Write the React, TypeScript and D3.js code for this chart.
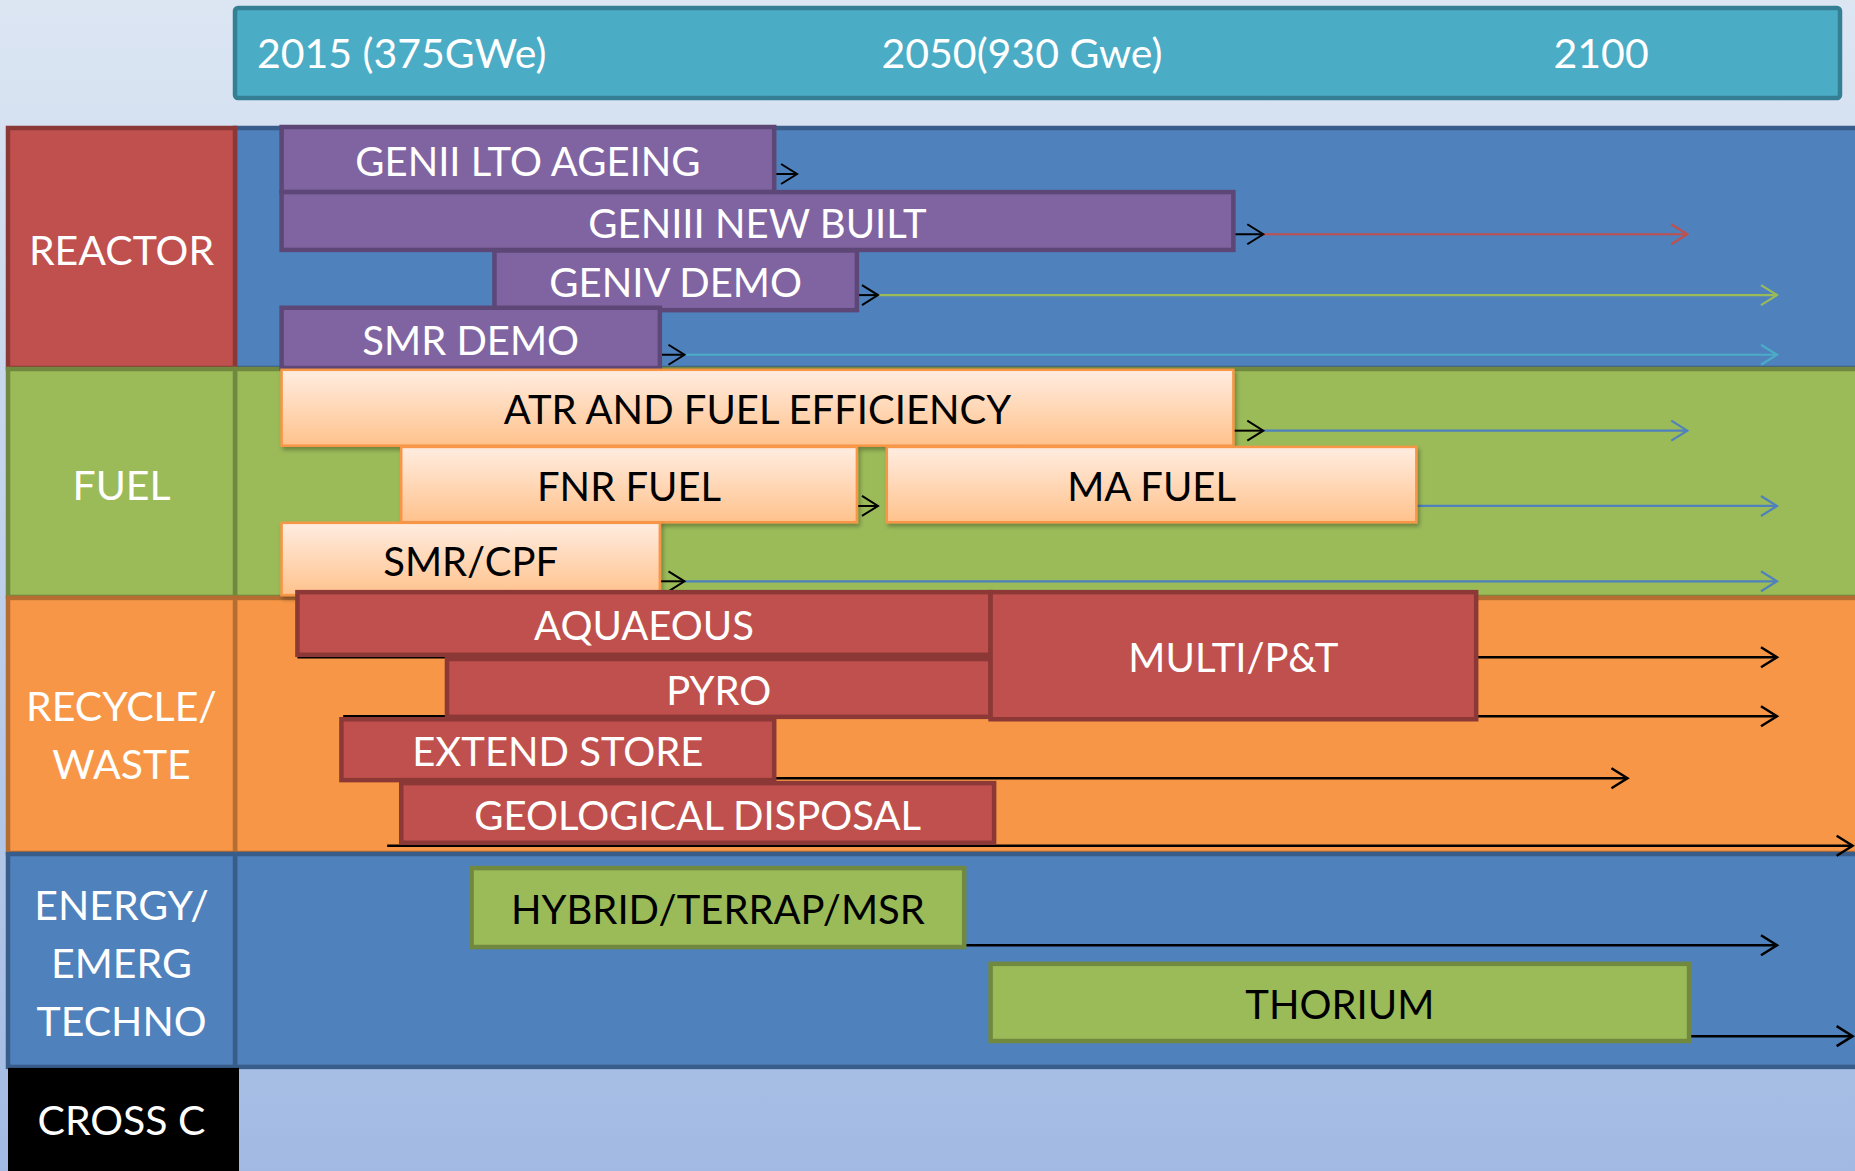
import React from "react";
import * as d3 from "d3";

const W = 1855;
const H = 1171;

// ---- data ----
const headerLabels = ["2015 (375GWe)", "2050(930 Gwe)", "2100"];
const headerYears = [2013.6, 2049.1, 2087.3];

const sectionKeys = ["reactor", "fuel", "recycle", "energy", "cross"];
const sectionLabels = [["REACTOR"], ["FUEL"], ["RECYCLE/", "WASTE"], ["ENERGY/", "EMERG", "TECHNO"], ["CROSS C"]];
const sectionRows = [4, 3.8, 4.25, 3.55, 1.73];

// bars: [label, startYear, endYear, rowTop, rowBottom]
const reactorBars: [string, number, number, number, number][] = [
  ["GENII LTO AGEING", 2015, 2043.0, 0, 1.08],
  ["GENIII NEW BUILT", 2015, 2069.1, 1.08, 2.04],
  ["GENIV DEMO", 2027.1, 2047.7, 2.05, 3.04],
  ["SMR DEMO", 2015, 2036.5, 3.0, 4.0],
];
const fuelBars: [string, number, number, number, number][] = [
  ["ATR AND FUEL EFFICIENCY", 2015, 2069.1, 4.03, 5.29],
  ["FNR FUEL", 2021.8, 2047.7, 5.31, 6.56],
  ["MA FUEL", 2049.4, 2079.5, 5.31, 6.56],
  ["SMR/CPF", 2015, 2036.5, 6.57, 7.77],
];
const recycleBars: [string, number, number, number, number][] = [
  ["AQUAEOUS", 2015.9, 2055.3, 7.72, 8.76],
  ["PYRO", 2024.4, 2055.3, 8.83, 9.79],
  ["MULTI/P&T", 2055.3, 2082.9, 7.72, 9.83],
  ["EXTEND STORE", 2018.4, 2043.0, 9.83, 10.84],
  ["GEOLOGICAL DISPOSAL", 2021.8, 2055.5, 10.89, 11.88],
];
const energyBars: [string, number, number, number, number][] = [
  ["HYBRID/TERRAP/MSR", 2025.8, 2053.8, 12.3, 13.61],
  ["THORIUM", 2055.3, 2095.0, 13.89, 15.17],
];

// arrows: [row, startYear, blackStubEnd (or null), endYear (or null), colour key]
const reactorArrows: [number, number, number | null, number | null, string][] = [
  [0.78, 2043.0, 2044.3, null, "black"],
  [1.78, 2069.1, 2070.8, 2094.9, "red"],
  [2.79, 2047.7, 2048.9, 2100, "green"],
  [3.78, 2036.5, 2037.9, 2100, "cyan"],
];
const fuelArrows: [number, number, number | null, number | null, string][] = [
  [5.04, 2069.1, 2070.8, 2094.9, "blue"],
  [6.29, 2047.7, 2048.9, null, "black"],
  [6.29, 2079.5, null, 2100, "blue"],
  [7.54, 2036.5, 2037.9, 2100, "blue"],
];
const recycleArrows: [number, number, number | null, number | null, string][] = [
  [8.8, 2015.9, null, 2100, "black"],
  [9.78, 2018.5, null, 2100, "black"],
  [10.81, 2018.5, null, 2091.5, "black"],
  [11.93, 2021.0, null, 2104.3, "black"],
];
const energyArrows: [number, number, number | null, number | null, string][] = [
  [13.58, 2053.8, null, 2100, "black"],
  [15.09, 2095.0, null, 2104.3, "black"],
];

// ---- styles ----
const FONT = "Lato, 'Open Sans', 'DejaVu Sans', sans-serif";
const lineColors: Record<string, string> = {
  black: "#000000",
  red: "#c0504d",
  green: "#9bbb59",
  cyan: "#4bacc6",
  blue: "#4f81bd",
};
const styles: Record<string, any> = {
  reactor: { lf: "#c0504d", ls: "#8c3836", pf: "#4f81bd", ps: "#385d8a", bf: "#8064a2", bs: "#5c4776", bw: 4.5, tc: "#ffffff", shift: 0 },
  fuel: { lf: "#9bbb59", ls: "#71893f", pf: "#9bbb59", ps: "#71893f", bf: "url(#peach)", bs: "#f79646", bw: 2.5, tc: "#000000", shadow: true, shift: 0 },
  recycle: { lf: "#f79646", ls: "#b66d31", pf: "#f79646", ps: "#b66d31", bf: "#c0504d", bs: "#8c3836", bw: 4.5, tc: "#ffffff", shift: 7 },
  energy: { lf: "#4f81bd", ls: "#385d8a", pf: "#4f81bd", ps: "#385d8a", bf: "#9bbb59", bs: "#71893f", bw: 4.5, tc: "#000000", shift: 0 },
  cross: { lf: "#000000", ls: "#000000", pf: "none", ps: "none", shift: -2 },
};

const LEFT_X0 = 8;
const LEFT_X1 = 235;
const TOP = 127;
const ROW_PX = 60.25;

export default function App() {
  const totalRows = d3.sum(sectionRows);
  const y = d3.scaleLinear().domain([0, totalRows]).range([TOP, TOP + totalRows * ROW_PX]);
  const x = d3.scaleLinear().domain([2015, 2100]).range([281.6, 1777]);
  const bounds = [0, ...d3.cumsum(sectionRows)];

  const FS = 41;
  const capH = FS * 0.7165;

  const allBars = [reactorBars, fuelBars, recycleBars, energyBars];
  const allArrows = [reactorArrows, fuelArrows, recycleArrows, energyArrows];

  const chevron = (tx: number, ty: number, color: string, w: number, key: string) => (
    <path
      key={key}
      d={`M${tx - 16},${ty - 10}L${tx},${ty}L${tx - 16},${ty + 10}`}
      fill="none"
      stroke={color}
      strokeWidth={w}
      strokeLinejoin="miter"
    />
  );

  return (
    <>
      <style>{`body{margin:0;}`}</style>
      <svg width={W} height={H} style={{ display: "block" }} fontFamily={FONT}>
        <defs>
          <linearGradient id="bg" x1="0" y1="0" x2="0" y2="1">
            <stop offset="0" stopColor="#dce6f3" />
            <stop offset="1" stopColor="#a2bae3" />
          </linearGradient>
          <linearGradient id="peach" x1="0" y1="0" x2="0" y2="1">
            <stop offset="0" stopColor="#ffede1" />
            <stop offset="1" stopColor="#ffc28c" />
          </linearGradient>
          <filter id="shadow" x="-5%" y="-10%" width="110%" height="130%">
            <feDropShadow dx="2" dy="3" stdDeviation="2" floodColor="#000" floodOpacity="0.3" />
          </filter>
        </defs>
        <rect x={0} y={0} width={W} height={H} fill="url(#bg)" />

        {/* header timeline */}
        <rect x={LEFT_X1} y={8} width={1840 - LEFT_X1} height={90} rx={3} fill="#4bacc6" stroke="#357f95" strokeWidth={4.5} />
        {headerLabels.map((t, i) => (
          <text key={t} x={x(headerYears[i])} y={68} fill="#ffffff" fontSize={FS}>
            {t}
          </text>
        ))}

        {/* section label boxes and panels */}
        {sectionKeys.map((k, i) => {
          const s = styles[k];
          const y0 = y(bounds[i]);
          const y1 = y(bounds[i + 1]);
          const cy = (y0 + y1) / 2 + s.shift;
          const lines = sectionLabels[i];
          return (
            <g key={k}>
              {k !== "cross" && (
                <rect x={LEFT_X1} y={y0 + 1} width={W - LEFT_X1 + 20} height={y1 - y0 - 1} fill={s.pf} stroke={s.ps} strokeWidth={4.5} />
              )}
              <rect
                x={LEFT_X0}
                y={y0 + 1}
                width={k === "cross" ? 239 - LEFT_X0 : LEFT_X1 - LEFT_X0}
                height={k === "cross" ? H - y0 : y1 - y0 - 1}
                fill={s.lf}
                stroke={s.ls}
                strokeWidth={k === "cross" ? 0 : 4.5}
              />
              {lines.map((ln, j) => (
                <text
                  key={ln}
                  x={(LEFT_X0 + LEFT_X1) / 2}
                  y={cy + capH / 2 + 3 + (j - (lines.length - 1) / 2) * 58}
                  fill="#ffffff"
                  fontSize={FS}
                  textAnchor="middle"
                >
                  {ln}
                </text>
              ))}
            </g>
          );
        })}

        {/* bars and arrows by section */}
        {allBars.map((bars, si) => {
          const s = styles[sectionKeys[si]];
          const arrows = allArrows[si];
          return (
            <g key={"sec" + si}>
              {arrows.map(([row, a, stub, b, col], ai) => {
                const yy = y(row);
                const parts: any[] = [];
                const c = lineColors[col];
                const lw = col === "black" ? 2.5 : 2.2;
                if (stub !== null) {
                  parts.push(<line key="s" x1={x(a)} x2={x(stub)} y1={yy} y2={yy} stroke="#000" strokeWidth={2} />);
                  if (b !== null) {
                    parts.push(<line key="l" x1={x(stub)} x2={x(b)} y1={yy} y2={yy} stroke={c} strokeWidth={lw} />);
                    parts.push(chevron(x(b), yy, c, lw, "h2"));
                  }
                  parts.push(chevron(x(stub), yy, "#000", 2, "h1"));
                } else if (b !== null) {
                  parts.push(<line key="l" x1={x(a)} x2={x(b)} y1={yy} y2={yy} stroke={c} strokeWidth={lw} />);
                  parts.push(chevron(x(b), yy, c, lw, "h2"));
                }
                return <g key={"a" + ai}>{parts}</g>;
              })}
              {bars.map(([label, a, b, r0, r1]) => {
                const x0 = x(a);
                const x1 = x(b);
                const y0 = y(r0);
                const y1 = y(r1);
                return (
                  <g key={label}>
                    <rect
                      x={x0}
                      y={y0}
                      width={x1 - x0}
                      height={y1 - y0}
                      fill={s.bf}
                      stroke={s.bs}
                      strokeWidth={s.bw}
                      filter={s.shadow ? "url(#shadow)" : undefined}
                    />
                    <text
                      x={(x0 + x1) / 2}
                      y={(y0 + y1) / 2 + capH / 2 + 2}
                      fill={s.tc}
                      fontSize={FS - 1}
                      textAnchor="middle"
                    >
                      {label}
                    </text>
                  </g>
                );
              })}
            </g>
          );
        })}
      </svg>
    </>
  );
}
